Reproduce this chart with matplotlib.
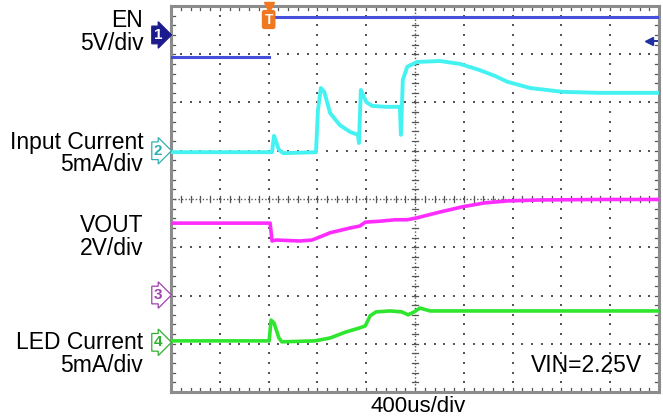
import matplotlib.pyplot as plt
import numpy as np

# traces: time in divisions (0..10), level in divisions (0..8, 8 = top)
en_t = [0, 2.0, 2.0, 10]
en_v = [6.94, 6.94, 7.77, 7.77]

iin_t = [0, 2.07, 2.11, 2.21, 2.30, 2.97, 3.01, 3.07, 3.14, 3.26, 3.46, 3.67, 3.83, 3.85,
         3.89, 4.0, 4.12, 4.39, 4.69, 4.71, 4.75, 4.84, 5.04, 5.51, 5.92, 6.33, 6.64,
         6.89, 7.36, 8.03, 8.79, 10]
iin_v = [4.97, 4.97, 5.31, 5.02, 4.95, 4.97, 5.84, 6.30, 6.22, 5.78, 5.53, 5.39, 5.33, 5.16,
         6.26, 6.01, 5.93, 5.91, 5.91, 5.33, 6.47, 6.74, 6.84, 6.86, 6.80, 6.67, 6.55,
         6.43, 6.30, 6.22, 6.20, 6.20]

vout_t = [0, 2.03, 2.07, 2.15, 2.64, 2.89, 3.09, 3.26, 3.67, 3.87, 3.98, 4.28, 4.59, 4.84,
          5.04, 5.51, 5.98, 6.43, 6.89, 7.56, 8.79, 10]
vout_v = [3.50, 3.50, 3.13, 3.15, 3.13, 3.15, 3.23, 3.30, 3.40, 3.44, 3.52, 3.54, 3.57, 3.57,
          3.61, 3.73, 3.84, 3.92, 3.96, 3.98, 3.99, 3.99]

led_t = [0, 2.01, 2.05, 2.11, 2.21, 2.27, 2.95, 3.26, 3.57, 3.87, 3.98, 4.08, 4.20, 4.49,
         4.73, 4.86, 4.98, 5.10, 5.31, 10]
led_v = [1.06, 1.06, 1.49, 1.43, 1.12, 1.04, 1.06, 1.12, 1.24, 1.33, 1.37, 1.58, 1.66, 1.68,
         1.66, 1.60, 1.66, 1.74, 1.68, 1.68]

# channel labels: (name, scale, y in divisions)
ch_labels = [("EN", "5V/div", 7.7), ("Input Current", "5mA/div", 5.18),
             ("VOUT", "2V/div", 3.45), ("LED Current", "5mA/div", 1.02)]
ch_markers = [("1", 7.4), ("2", 5.0), ("3", 2.01), ("4", 1.03)]

plt.rcParams['font.family'] = ['Liberation Sans', 'DejaVu Sans']

fig = plt.figure(figsize=(6.63, 4.19), dpi=100)
ax = fig.add_axes([0.258, 0.0644, 0.736, 0.9213])
ax.set_xlim(0, 10)
ax.set_ylim(0, 8)
ax.set_xticks([])
ax.set_yticks([])
for s in ax.spines.values():
    s.set_color('#8c8c8c')
    s.set_linewidth(2.2)

# grid: dotted lines, one dot every 0.2 div
gc = '#555555'
dx = np.arange(0, 10.01, 0.2)
dy = np.arange(0, 8.01, 0.2)
for x in range(1, 10):
    if x != 5:
        ax.scatter(np.full(dy.size, x), dy, s=1.4, color=gc, marker='s', lw=0, zorder=1)
for y in range(1, 8):
    if y != 4:
        ax.scatter(dx, np.full(dx.size, y), s=1.4, color=gc, marker='s', lw=0, zorder=1)
# centre lines: dense dots with minor ticks
ax.plot([5, 5], [0, 8], color=gc, lw=1.0, ls=(0, (1, 1.5)), zorder=1)
ax.plot([0, 10], [4, 4], color=gc, lw=1.0, ls=(0, (1, 1.5)), zorder=1)
for x in dx:
    ax.plot([x, x], [3.93, 4.07], color=gc, lw=0.9, zorder=1)
    ax.plot([x, x], [0, 0.08], color=gc, lw=0.9, zorder=1)
    ax.plot([x, x], [7.92, 8], color=gc, lw=0.9, zorder=1)
for y in dy:
    ax.plot([4.94, 5.06], [y, y], color=gc, lw=0.9, zorder=1)
    ax.plot([0, 0.08], [y, y], color=gc, lw=0.9, zorder=1)
    ax.plot([9.92, 10], [y, y], color=gc, lw=0.9, zorder=1)

# traces (EN drawn as its two levels, the fast edge is not visible on the scope)
ax.plot(en_t[:2], en_v[:2], color='#4450dc', lw=2.2, zorder=3)
ax.plot(en_t[2:], en_v[2:], color='#4450dc', lw=2.2, zorder=3)
ax.plot(iin_t, iin_v, color='#45f2f2', lw=2.8, zorder=3)
ax.plot(vout_t, vout_v, color='#ff2cff', lw=2.6, zorder=3)
ax.plot(led_t, led_v, color='#2ee62e', lw=2.6, zorder=3)

# left labels
for name, scale, y in ch_labels:
    ax.annotate(name, xy=(0, y), xycoords='data', xytext=(-20, 0), textcoords='offset points',
                ha='right', va='center', fontsize=16.5, annotation_clip=False)
    ax.annotate(scale, xy=(0, y), xycoords='data', xytext=(-20, -16.5), textcoords='offset points',
                ha='right', va='center', fontsize=16.5, annotation_clip=False)

# channel markers
mstyle = {"1": dict(fc='#1b1b8e', ec='#1b1b8e', tc='white'),
          "2": dict(fc='white', ec='#30b0b0', tc='#30b0b0'),
          "3": dict(fc='white', ec='#a040b0', tc='#a040b0'),
          "4": dict(fc='white', ec='#30b030', tc='#30b030')}
for lab, y in ch_markers:
    st = mstyle[lab]
    ax.annotate(lab, xy=(0, y), xycoords='data', xytext=(-9.5, 0), textcoords='offset points',
                ha='center', va='center', fontsize=11, fontweight='bold', color=st['tc'],
                bbox=dict(boxstyle='rarrow,pad=0.12', fc=st['fc'], ec=st['ec'], lw=0.9),
                annotation_clip=False)

# trigger marker
ax.plot([2.0], [7.98], marker='v', color='#f07820', ms=7, clip_on=False, zorder=5)
ax.annotate('T', xy=(2.0, 7.72), xycoords='data', ha='center', va='center', fontsize=10,
            color='white', fontweight='bold',
            bbox=dict(boxstyle='round,pad=0.14', fc='#f07820', ec='#f07820'),
            annotation_clip=False, zorder=6)

# right-side level arrow
ax.plot([9.8], [7.27], marker='<', color='#2030a0', ms=6, zorder=5)
ax.plot([9.8, 9.95], [7.27, 7.27], color='#2030a0', lw=1.4, zorder=5)

ax.text(9.66, 0.55, 'VIN=2.25V', ha='right', va='center', fontsize=16.5)
fig.text(ax.get_position().x0 + ax.get_position().width / 2 + 0.005, 0.031, '400us/div',
         ha='center', va='center', fontsize=16)

fig.savefig('out.png', dpi=100)
